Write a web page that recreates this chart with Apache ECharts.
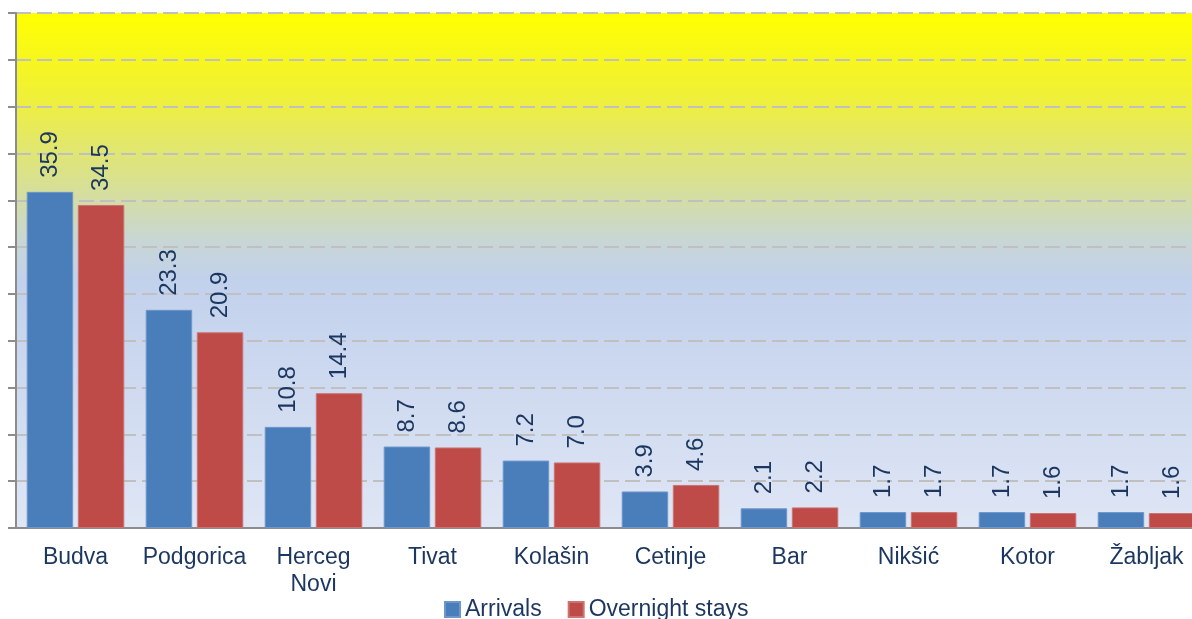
<!DOCTYPE html>
<html>
<head>
<meta charset="utf-8">
<script src="https://cdn.jsdelivr.net/npm/echarts@6/dist/echarts.min.js"></script>
<style>
  html, body { margin: 0; padding: 0; background: #fff; overflow: hidden; }
  #chart { width: 1210px; height: 619px; }
</style>
</head>
<body>
<div id="chart"></div>
<script>
// towns (categories)
const towns = ["Budva", "Podgorica", "Herceg\nNovi", "Tivat", "Kolašin", "Cetinje", "Bar", "Nikšić", "Kotor", "Žabljak"];
// shares, %
const arrivals = [35.9, 23.3, 10.8, 8.7, 7.2, 3.9, 2.1, 1.7, 1.7, 1.7];
const overnight = [34.5, 20.9, 14.4, 8.6, 7.0, 4.6, 2.2, 1.7, 1.6, 1.6];

const navy = "#1b365f";
const font = "'Liberation Sans', Arial, sans-serif";

// chart is a bit wider than the window: the right edge of the plot is cut off like in the source
const chart = echarts.init(document.getElementById("chart"), null, { renderer: "canvas" });

const barLabel = {
  show: true,
  position: "top",
  rotate: 90,
  align: "left",
  verticalAlign: "middle",
  distance: 14,
  color: navy,
  fontFamily: font,
  fontSize: 24,
  formatter: (p) => p.value.toFixed(1),
};

chart.setOption({
  animation: false,
  textStyle: { fontFamily: font },
  grid: {
    left: 16, top: 13, bottom: 91, right: 4,
    show: true,
    borderWidth: 0,
    backgroundColor: new echarts.graphic.LinearGradient(0, 0, 0, 1, [
      { offset: 0, color: "#ffff00" },
      { offset: 0.15, color: "#f1f133" },
      { offset: 0.33, color: "#d8e092" },
      { offset: 0.44, color: "#c8d6d4" },
      { offset: 0.52, color: "#c2d1ec" },
      { offset: 1, color: "#dfe6f5" },
    ]),
  },
  legend: {
    top: 593,
    left: 439,
    itemWidth: 15,
    itemHeight: 15,
    itemGap: 26,
    icon: "rect",
    textStyle: { color: navy, fontSize: 23, fontFamily: font },
    data: ["Arrivals", "Overnight stays"],
  },
  xAxis: {
    type: "category",
    data: towns,
    axisLine: { lineStyle: { color: "#8c8c8c", width: 2 } },
    axisTick: { show: false },
    axisLabel: { color: navy, fontSize: 23, fontFamily: font, margin: 16, lineHeight: 27, interval: 0 },
  },
  yAxis: {
    type: "value",
    min: 0, max: 55, interval: 5,
    axisLine: { show: true, lineStyle: { color: "#8c8c8c", width: 2 } },
    axisTick: { show: true, length: 8, lineStyle: { color: "#8c8c8c", width: 2 } },
    axisLabel: { show: false },
    splitLine: { lineStyle: { color: "#c0c0c0", width: 2, type: [15, 6] } },
  },
  series: [
    {
      name: "Arrivals", type: "bar", data: arrivals,
      barGap: "10%", barCategoryGap: "18%",
      itemStyle: { color: "#4a7ebb", borderColor: "#6d96cb", borderWidth: 1 },
      label: barLabel,
    },
    {
      name: "Overnight stays", type: "bar", data: overnight,
      itemStyle: { color: "#be4b48", borderColor: "#cc7270", borderWidth: 1 },
      label: barLabel,
    },
  ],
});
</script>
</body>
</html>
